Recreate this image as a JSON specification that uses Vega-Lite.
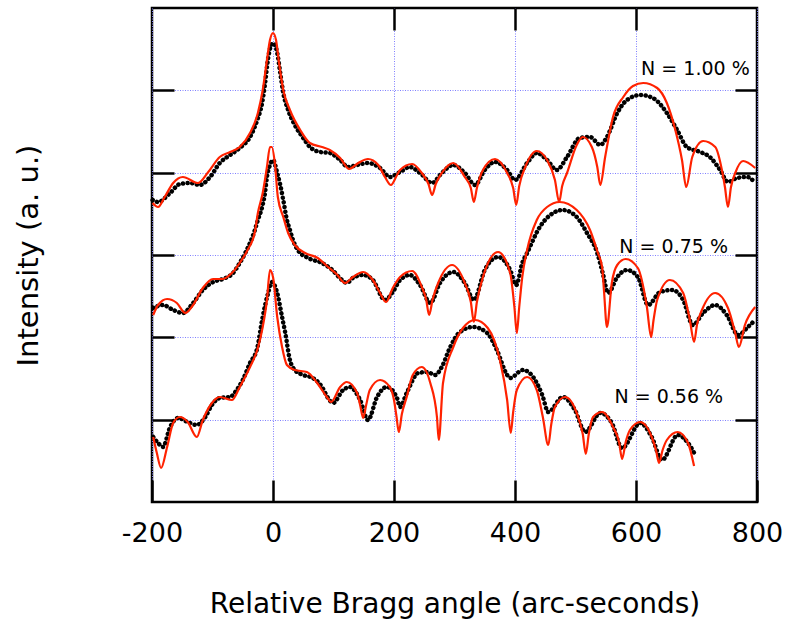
{
  "$schema": "https://vega.github.io/schema/vega-lite/v6.json",
  "width": 605,
  "height": 494,
  "autosize": {"type": "none"},
  "padding": {"left": 152, "top": 8, "right": 31, "bottom": 121},
  "background": "white",
  "config": {
    "view": {"stroke": "black", "strokeWidth": 2.5},
    "font": "DejaVu Sans",
    "axis": {
      "domain": false,
      "tickColor": "black",
      "tickWidth": 2.5,
      "tickSize": -22,
      "gridColor": "#8080ff",
      "gridDash": [1, 1.5],
      "gridWidth": 1,
      "labelFont": "DejaVu Sans",
      "titleFont": "DejaVu Sans",
      "labelColor": "black",
      "titleColor": "black",
      "titleFontWeight": "normal"
    }
  },
  "datasets": {
    "am": [
      {"x":-199,"y":302},{"x":-190,"y":300},{"x":-170,"y":309},{"x":-154,"y":318},{"x":-137,"y":319},{"x":-121,"y":317},{"x":-104,"y":325},{"x":-88,"y":339},{"x":-71,"y":347},{"x":-55,"y":354},{"x":-38,"y":365},{"x":-26,"y":382},{"x":-18,"y":399},{"x":-13,"y":419},{"x":-8,"y":444},{"x":0,"y":459},{"x":7,"y":449},{"x":12,"y":429},{"x":17,"y":409},{"x":25,"y":392},{"x":36,"y":377},{"x":50,"y":364},{"x":61,"y":355},{"x":78,"y":350},{"x":94,"y":349},{"x":111,"y":342},{"x":124,"y":335},{"x":139,"y":337},{"x":157,"y":339},{"x":177,"y":334},{"x":193,"y":325},{"x":210,"y":330},{"x":226,"y":335},{"x":243,"y":329},{"x":263,"y":319},{"x":279,"y":329},{"x":298,"y":337},{"x":317,"y":329},{"x":334,"y":317},{"x":350,"y":332},{"x":367,"y":340},{"x":387,"y":332},{"x":400,"y":322},{"x":420,"y":339},{"x":436,"y":349},{"x":453,"y":342},{"x":469,"y":332},{"x":486,"y":345},{"x":507,"y":364},{"x":524,"y":365},{"x":541,"y":357},{"x":552,"y":365},{"x":569,"y":389},{"x":585,"y":402},{"x":607,"y":407},{"x":628,"y":404},{"x":651,"y":389},{"x":668,"y":372},{"x":684,"y":355},{"x":706,"y":350},{"x":722,"y":345},{"x":739,"y":332},{"x":752,"y":320},{"x":767,"y":324},{"x":784,"y":325},{"x":797,"y":319}
    ],
    "as": [
      {"x":-199,"y":299},{"x":-190,"y":295},{"x":-179,"y":305},{"x":-165,"y":319},{"x":-149,"y":325},{"x":-124,"y":319},{"x":-107,"y":330},{"x":-88,"y":345},{"x":-71,"y":350},{"x":-55,"y":355},{"x":-38,"y":369},{"x":-25,"y":389},{"x":-17,"y":412},{"x":-10,"y":442},{"x":-5,"y":462},{"x":0,"y":469},{"x":5,"y":462},{"x":10,"y":439},{"x":17,"y":412},{"x":28,"y":392},{"x":45,"y":372},{"x":61,"y":359},{"x":81,"y":355},{"x":94,"y":352},{"x":111,"y":344},{"x":126,"y":333},{"x":141,"y":339},{"x":157,"y":343},{"x":174,"y":337},{"x":185,"y":325},{"x":195,"y":317},{"x":205,"y":327},{"x":210,"y":332},{"x":230,"y":338},{"x":246,"y":329},{"x":257,"y":318},{"x":263,"y":307},{"x":269,"y":318},{"x":279,"y":329},{"x":298,"y":339},{"x":317,"y":325},{"x":327,"y":314},{"x":332,"y":300},{"x":337,"y":314},{"x":347,"y":332},{"x":367,"y":343},{"x":387,"y":329},{"x":397,"y":314},{"x":402,"y":297},{"x":407,"y":316},{"x":417,"y":335},{"x":436,"y":351},{"x":453,"y":342},{"x":466,"y":322},{"x":473,"y":300},{"x":478,"y":316},{"x":486,"y":329},{"x":502,"y":357},{"x":512,"y":365},{"x":527,"y":355},{"x":536,"y":335},{"x":541,"y":317},{"x":549,"y":345},{"x":562,"y":385},{"x":579,"y":405},{"x":595,"y":416},{"x":612,"y":419},{"x":635,"y":414},{"x":651,"y":399},{"x":665,"y":372},{"x":676,"y":342},{"x":683,"y":315},{"x":693,"y":345},{"x":711,"y":361},{"x":731,"y":355},{"x":742,"y":332},{"x":747,"y":315},{"x":752,"y":295},{"x":757,"y":315},{"x":764,"y":329},{"x":777,"y":341},{"x":797,"y":334}
    ],
    "bm": [
      {"x":-198,"y":194},{"x":-182,"y":197},{"x":-165,"y":192},{"x":-149,"y":189},{"x":-132,"y":199},{"x":-116,"y":212},{"x":-99,"y":220},{"x":-83,"y":223},{"x":-66,"y":229},{"x":-55,"y":239},{"x":-45,"y":250},{"x":-30,"y":272},{"x":-25,"y":282},{"x":-18,"y":295},{"x":-13,"y":310},{"x":-10,"y":325},{"x":-5,"y":337},{"x":0,"y":342},{"x":7,"y":329},{"x":12,"y":317},{"x":17,"y":302},{"x":23,"y":282},{"x":28,"y":272},{"x":33,"y":262},{"x":41,"y":252},{"x":58,"y":244},{"x":81,"y":239},{"x":98,"y":232},{"x":114,"y":222},{"x":122,"y":219},{"x":132,"y":224},{"x":149,"y":227},{"x":165,"y":222},{"x":185,"y":202},{"x":198,"y":210},{"x":210,"y":222},{"x":226,"y":227},{"x":243,"y":217},{"x":260,"y":199},{"x":276,"y":219},{"x":298,"y":230},{"x":317,"y":219},{"x":332,"y":202},{"x":350,"y":232},{"x":372,"y":245},{"x":392,"y":232},{"x":402,"y":217},{"x":412,"y":239},{"x":420,"y":249},{"x":441,"y":275},{"x":463,"y":289},{"x":479,"y":292},{"x":502,"y":285},{"x":519,"y":269},{"x":536,"y":249},{"x":545,"y":229},{"x":554,"y":209},{"x":569,"y":225},{"x":585,"y":232},{"x":603,"y":225},{"x":620,"y":197},{"x":640,"y":210},{"x":660,"y":212},{"x":678,"y":202},{"x":694,"y":177},{"x":711,"y":189},{"x":731,"y":197},{"x":750,"y":187},{"x":769,"y":167},{"x":785,"y":175},{"x":797,"y":182}
    ],
    "bs": [
      {"x":-198,"y":187},{"x":-190,"y":197},{"x":-175,"y":203},{"x":-159,"y":199},{"x":-145,"y":189},{"x":-132,"y":197},{"x":-116,"y":214},{"x":-99,"y":223},{"x":-83,"y":223},{"x":-68,"y":229},{"x":-55,"y":239},{"x":-42,"y":252},{"x":-30,"y":270},{"x":-25,"y":289},{"x":-17,"y":309},{"x":-10,"y":335},{"x":-5,"y":355},{"x":-2,"y":355},{"x":3,"y":339},{"x":8,"y":305},{"x":17,"y":285},{"x":25,"y":269},{"x":36,"y":257},{"x":53,"y":249},{"x":74,"y":244},{"x":91,"y":235},{"x":105,"y":228},{"x":119,"y":219},{"x":132,"y":225},{"x":149,"y":230},{"x":165,"y":222},{"x":177,"y":209},{"x":187,"y":200},{"x":198,"y":214},{"x":210,"y":225},{"x":230,"y":231},{"x":246,"y":215},{"x":253,"y":203},{"x":258,"y":187},{"x":264,"y":203},{"x":273,"y":219},{"x":296,"y":237},{"x":317,"y":219},{"x":327,"y":200},{"x":332,"y":180},{"x":337,"y":200},{"x":347,"y":225},{"x":372,"y":250},{"x":392,"y":229},{"x":399,"y":195},{"x":403,"y":169},{"x":407,"y":195},{"x":412,"y":225},{"x":420,"y":252},{"x":436,"y":282},{"x":453,"y":295},{"x":474,"y":300},{"x":502,"y":292},{"x":524,"y":272},{"x":537,"y":249},{"x":544,"y":235},{"x":547,"y":212},{"x":552,"y":175},{"x":560,"y":219},{"x":569,"y":237},{"x":583,"y":243},{"x":603,"y":234},{"x":618,"y":195},{"x":625,"y":165},{"x":629,"y":182},{"x":635,"y":202},{"x":656,"y":222},{"x":678,"y":209},{"x":689,"y":182},{"x":696,"y":160},{"x":701,"y":178},{"x":709,"y":192},{"x":731,"y":209},{"x":752,"y":194},{"x":764,"y":169},{"x":770,"y":155},{"x":780,"y":177},{"x":797,"y":195}
    ],
    "cm": [
      {"x":-198,"y":65},{"x":-190,"y":59},{"x":-182,"y":55},{"x":-170,"y":75},{"x":-157,"y":84},{"x":-141,"y":80},{"x":-126,"y":77},{"x":-112,"y":85},{"x":-101,"y":97},{"x":-88,"y":104},{"x":-71,"y":105},{"x":-60,"y":112},{"x":-50,"y":122},{"x":-38,"y":139},{"x":-26,"y":154},{"x":-18,"y":182},{"x":-13,"y":197},{"x":-8,"y":209},{"x":-2,"y":220},{"x":7,"y":209},{"x":15,"y":185},{"x":20,"y":170},{"x":28,"y":142},{"x":36,"y":132},{"x":50,"y":127},{"x":66,"y":124},{"x":81,"y":115},{"x":91,"y":104},{"x":99,"y":99},{"x":116,"y":112},{"x":127,"y":115},{"x":144,"y":102},{"x":157,"y":82},{"x":172,"y":105},{"x":188,"y":115},{"x":205,"y":104},{"x":210,"y":95},{"x":221,"y":109},{"x":240,"y":129},{"x":255,"y":130},{"x":268,"y":127},{"x":279,"y":135},{"x":293,"y":155},{"x":309,"y":170},{"x":331,"y":175},{"x":354,"y":169},{"x":370,"y":152},{"x":387,"y":127},{"x":392,"y":124},{"x":413,"y":132},{"x":430,"y":125},{"x":445,"y":107},{"x":455,"y":90},{"x":479,"y":105},{"x":499,"y":92},{"x":516,"y":70},{"x":541,"y":89},{"x":560,"y":79},{"x":577,"y":54},{"x":607,"y":79},{"x":626,"y":65},{"x":643,"y":42},{"x":669,"y":67},{"x":686,"y":59},{"x":698,"y":47}
    ],
    "cs": [
      {"x":-198,"y":65},{"x":-192,"y":49},{"x":-185,"y":34},{"x":-175,"y":55},{"x":-165,"y":79},{"x":-154,"y":85},{"x":-141,"y":80},{"x":-126,"y":65},{"x":-116,"y":82},{"x":-101,"y":99},{"x":-88,"y":105},{"x":-68,"y":102},{"x":-55,"y":115},{"x":-38,"y":135},{"x":-25,"y":154},{"x":-17,"y":175},{"x":-10,"y":202},{"x":-5,"y":232},{"x":0,"y":225},{"x":7,"y":185},{"x":15,"y":155},{"x":23,"y":137},{"x":36,"y":132},{"x":56,"y":130},{"x":73,"y":119},{"x":89,"y":105},{"x":96,"y":100},{"x":111,"y":115},{"x":122,"y":120},{"x":139,"y":109},{"x":144,"y":97},{"x":149,"y":84},{"x":154,"y":97},{"x":160,"y":112},{"x":177,"y":122},{"x":193,"y":115},{"x":200,"y":102},{"x":204,"y":86},{"x":208,"y":70},{"x":213,"y":88},{"x":221,"y":105},{"x":231,"y":127},{"x":246,"y":135},{"x":260,"y":119},{"x":271,"y":85},{"x":274,"y":62},{"x":281,"y":119},{"x":298,"y":155},{"x":314,"y":174},{"x":334,"y":182},{"x":355,"y":174},{"x":375,"y":142},{"x":387,"y":102},{"x":393,"y":69},{"x":397,"y":90},{"x":403,"y":112},{"x":420,"y":125},{"x":436,"y":112},{"x":446,"y":85},{"x":455,"y":57},{"x":460,"y":78},{"x":466,"y":95},{"x":483,"y":105},{"x":502,"y":89},{"x":512,"y":68},{"x":517,"y":48},{"x":522,"y":68},{"x":529,"y":85},{"x":544,"y":90},{"x":562,"y":75},{"x":572,"y":60},{"x":577,"y":43},{"x":583,"y":60},{"x":590,"y":72},{"x":607,"y":80},{"x":626,"y":65},{"x":633,"y":52},{"x":638,"y":39},{"x":644,"y":52},{"x":651,"y":62},{"x":669,"y":70},{"x":686,"y":59},{"x":696,"y":36}
    ],
    "labels": [
      {"x":788,"y":427,"t":"N = 1.00 %"},
      {"x":752,"y":249,"t":"N = 0.75 %"},
      {"x":744,"y":99,"t":"N = 0.56 %"}
    ]
  },
  "resolve": {"axis": {"x": "independent", "y": "independent"}},
  "layer": [
    {
      "data": {"name": "am"},
      "mark": {"type": "line", "color": "black", "strokeWidth": 4.5, "strokeDash": [0.1, 4.6], "strokeCap": "round", "interpolate": "monotone"},
      "encoding": {
        "x": {"field": "x", "type": "quantitative", "scale": {"domain": [-200, 800], "nice": false, "zero": false},
          "axis": {"orient": "bottom", "values": [-200, 0, 200, 400, 600, 800], "grid": true, "labelFontSize": 27, "labelPadding": 40, "labelFlush": false, "labelExpr": "replace(datum.label, '\u2212', '-')", "title": "Relative Bragg angle (arc-seconds)", "titleFontSize": 28, "titleX": 302.5, "titleY": 110, "titleBaseline": "alphabetic", "titleAnchor": "middle"}},
        "y": {"field": "y", "type": "quantitative", "scale": {"domain": [0, 494], "nice": false, "zero": false},
          "axis": {"orient": "left", "values": [82.33, 164.67, 247, 329.33, 411.67], "grid": true, "labels": false, "title": "Intensity (a. u.)", "titleFontSize": 29, "titleAngle": -90, "titleX": -115, "titleY": 247, "titleBaseline": "alphabetic", "titleAlign": "center"}}
      }
    },
    {
      "data": {"name": "bm"},
      "mark": {"type": "line", "color": "black", "strokeWidth": 4.5, "strokeDash": [0.1, 4.6], "strokeCap": "round", "interpolate": "monotone"},
      "encoding": {
        "x": {"field": "x", "type": "quantitative", "axis": {"orient": "top", "values": [0, 200, 400, 600], "grid": false, "labels": false, "title": null}},
        "y": {"field": "y", "type": "quantitative", "axis": {"orient": "right", "values": [82.33, 164.67, 247, 329.33, 411.67], "grid": false, "labels": false, "title": null}}
      }
    },
    {
      "data": {"name": "cm"},
      "mark": {"type": "line", "color": "black", "strokeWidth": 4.5, "strokeDash": [0.1, 4.6], "strokeCap": "round", "interpolate": "monotone"},
      "encoding": {
        "x": {"field": "x", "type": "quantitative", "axis": null},
        "y": {"field": "y", "type": "quantitative", "axis": null}
      }
    },
    {
      "data": {"name": "as"},
      "mark": {"type": "line", "color": "#ff2200", "strokeWidth": 2.2, "interpolate": "monotone"},
      "encoding": {
        "x": {"field": "x", "type": "quantitative", "axis": null},
        "y": {"field": "y", "type": "quantitative", "axis": null}
      }
    },
    {
      "data": {"name": "bs"},
      "mark": {"type": "line", "color": "#ff2200", "strokeWidth": 2.2, "interpolate": "monotone"},
      "encoding": {
        "x": {"field": "x", "type": "quantitative", "axis": null},
        "y": {"field": "y", "type": "quantitative", "axis": null}
      }
    },
    {
      "data": {"name": "cs"},
      "mark": {"type": "line", "color": "#ff2200", "strokeWidth": 2.2, "interpolate": "monotone"},
      "encoding": {
        "x": {"field": "x", "type": "quantitative", "axis": null},
        "y": {"field": "y", "type": "quantitative", "axis": null}
      }
    },
    {
      "data": {"name": "labels"},
      "mark": {"type": "text", "align": "right", "baseline": "alphabetic", "fontSize": 19, "font": "DejaVu Sans", "color": "black"},
      "encoding": {
        "x": {"field": "x", "type": "quantitative", "axis": null},
        "y": {"field": "y", "type": "quantitative", "axis": null},
        "text": {"field": "t"}
      }
    }
  ]
}
